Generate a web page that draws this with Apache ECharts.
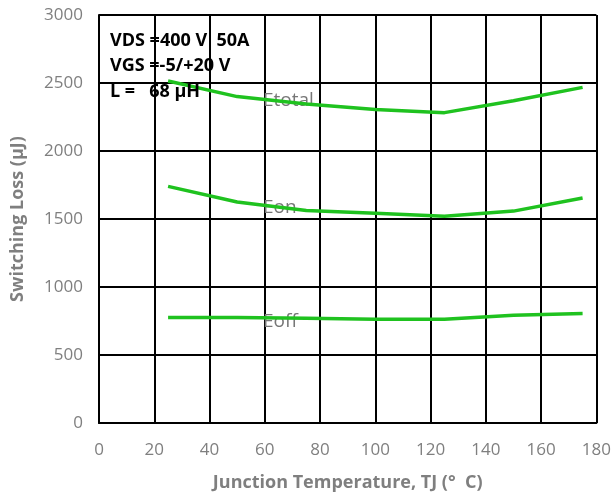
<!DOCTYPE html>
<html><head><meta charset="utf-8">
<script src="https://cdn.jsdelivr.net/npm/echarts@6/dist/echarts.min.js"></script>
<style>html,body{margin:0;padding:0;background:#fff}#c{width:614px;height:497px}</style>
</head><body><div id="c"></div>
<script>
var temps = [25, 50, 75, 100, 125, 150, 175];
var etotal = [2515, 2400, 2345, 2305, 2282, 2370, 2468];
var eon = [1740, 1625, 1562, 1542, 1520, 1558, 1655];
var eoff = [775, 775, 770, 762, 762, 793, 806];
var xTicks = [0, 20, 40, 60, 80, 100, 120, 140, 160, 180];
var yTicks = [0, 500, 1000, 1500, 2000, 2500, 3000];
var seriesNames = ['Etotal', 'Eon', 'Eoff'];
var notes = ['VDS =400 V  50A', 'VGS =-5/+20 V', 'L =   68 µH'];

function pairs(v){ return temps.map(function(t,i){return [t, v[i]];}); }
var chart = echarts.init(document.getElementById('c'));
var green = '#1fc21f';
var font = '"Open Sans", "Noto Sans", sans-serif';
function txt(x, y, s, f, fill, z){
  return {type:'text', x: x, y: y, z: z, style:{text: s, fill: fill, font: f, textVerticalAlign: 'middle'}};
}
chart.setOption({
  animation: false,
  grid: {left: 99, right: 17, top: 15, bottom: 72},
  xAxis: {
    type: 'value', min: 0, max: 180, interval: 20,
    axisLine: {show: true, lineStyle: {color: '#000', width: 2}},
    axisTick: {show: false},
    splitLine: {show: true, lineStyle: {color: '#000', width: 2}},
    axisLabel: {color: '#7f7f7f', fontSize: 17, fontFamily: font, margin: 19,
      formatter: function(v){ return xTicks.indexOf(v) >= 0 ? String(v) : ''; }},
    name: 'Junction Temperature, TJ (°  C)', nameLocation: 'middle', nameGap: 51,
    nameTextStyle: {color: '#7f7f7f', fontSize: 18, fontWeight: 'bold', fontFamily: font}
  },
  yAxis: {
    type: 'value', min: 0, max: 3000, interval: 500,
    axisLine: {show: true, lineStyle: {color: '#000', width: 2}},
    axisTick: {show: false},
    splitLine: {show: true, lineStyle: {color: '#000', width: 2}},
    axisLabel: {color: '#7f7f7f', fontSize: 17, fontFamily: font, margin: 16,
      formatter: function(v){ return yTicks.indexOf(v) >= 0 ? String(v) : ''; }},
    name: 'Switching Loss (µJ)', nameLocation: 'middle', nameGap: 72, nameRotate: 90,
    nameTextStyle: {color: '#7f7f7f', fontSize: 18, fontWeight: 'bold', fontFamily: font}
  },
  series: [etotal, eon, eoff].map(function(v, i){
    return {
      name: seriesNames[i], type: 'line', data: pairs(v), showSymbol: false,
      lineStyle: {color: green, width: 3.5}, z: 3
    };
  }),
  graphic: [
    txt(110, 41, notes[0], 'bold 18px "Open Sans", sans-serif', '#000', 10),
    txt(110, 66, notes[1], 'bold 18px "Open Sans", sans-serif', '#000', 10),
    txt(110, 92, notes[2], 'bold 18px "Open Sans", sans-serif', '#000', 10),
    txt(263, 101, seriesNames[0], '19px "Open Sans", sans-serif', '#777', 1),
    txt(263, 208, seriesNames[1], '19px "Open Sans", sans-serif', '#777', 1),
    txt(263, 322, seriesNames[2], '19px "Open Sans", sans-serif', '#777', 1)
  ]
});
</script></body></html>
